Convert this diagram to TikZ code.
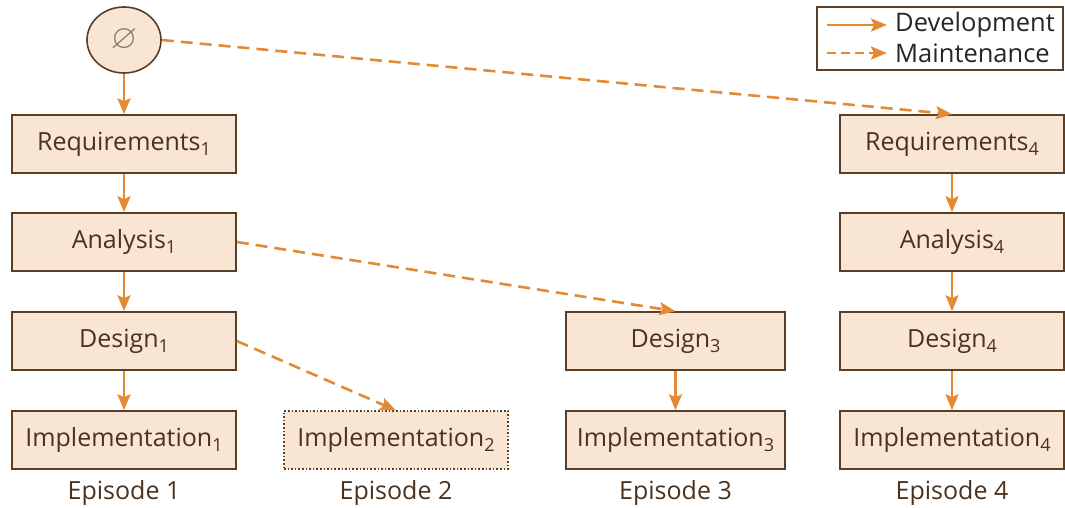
\documentclass[tikz,border=0pt]{standalone}
\usepackage{amssymb}
\usepackage{fontspec}
\setmainfont{Open Sans}
\usetikzlibrary{arrows.meta,shapes.geometric}
\definecolor{boxfill}{RGB}{249,229,212}
\definecolor{boxline}{RGB}{92,62,36}
\definecolor{flow}{RGB}{226,138,52}
\definecolor{ink}{RGB}{74,50,30}
\newcommand{\idx}[1]{\raisebox{-0.4ex}{\fontsize{18}{18}\selectfont #1}}
\tikzset{
  phase/.style={draw=boxline, line width=1.6pt, fill=boxfill,
    minimum width=224pt, minimum height=58pt, inner sep=0pt,
    font=\fontsize{25}{28}\selectfont, text=ink},
  devarrow/.style={draw=flow, line width=2.6pt,
    -{Stealth[length=16pt,width=13pt,inset=3pt]}},
  maintarrow/.style={devarrow, dash pattern=on 12pt off 7pt},
  episode/.style={font=\fontsize{25}{28}\selectfont, text=ink},
  legendtext/.style={anchor=west, inner sep=0pt, font=\fontsize{25.5}{28}\selectfont, text=black!85}
}
\begin{document}
\begin{tikzpicture}[x=1pt,y=-1pt]
\useasboundingbox (0,0) rectangle (1065,507);

% start node
\node[ellipse, draw=boxline, line width=1.6pt, fill=boxfill,
  minimum width=74pt, minimum height=66pt, inner sep=0pt,
  font=\fontsize{34}{34}\selectfont, text=ink!65] (empty) at (124,40) {$\varnothing$};

% episode 1
\node[phase] (req1) at (124,144) {Requirements\idx{1}};
\node[phase] (ana1) at (124,242) {Analysis\idx{1}};
\node[phase] (des1) at (124,341) {Design\idx{1}};
\node[phase] (imp1) at (124,440) {Implementation\idx{1}};

% episode 2
\node[phase, draw=boxline, dotted, line width=1.2pt] (imp2) at (396,440) {Implementation\idx{2}};

% episode 3
\node[phase, minimum width=219pt] (des3) at (675.5,341) {Design\idx{3}};
\node[phase, minimum width=219pt] (imp3) at (675.5,440) {Implementation\idx{3}};

% episode 4
\node[phase] (req4) at (952,144) {Requirements\idx{4}};
\node[phase] (ana4) at (952,242) {Analysis\idx{4}};
\node[phase] (des4) at (952,341) {Design\idx{4}};
\node[phase] (imp4) at (952,440) {Implementation\idx{4}};

% development flow
\draw[devarrow] (empty) -- (req1);
\draw[devarrow] (req1) -- (ana1);
\draw[devarrow] (ana1) -- (des1);
\draw[devarrow] (des1) -- (imp1);
\draw[devarrow] (des3) -- (imp3);
\draw[devarrow] (req4) -- (ana4);
\draw[devarrow] (ana4) -- (des4);
\draw[devarrow] (des4) -- (imp4);

% maintenance flow
\draw[maintarrow] (empty.east) -- (req4.north);
\draw[maintarrow] (ana1.east) -- (des3.north);
\draw[maintarrow] (des1.east) -- (imp2.north);

% episode labels
\node[episode] (ep1) at (124,493) {Episode 1};
\node[episode] (ep2) at (396,493) {Episode 2};
\node[episode] (ep3) at (675.5,493) {Episode 3};
\node[episode] (ep4) at (952,493) {Episode 4};

% legend
\node[draw=boxline, line width=1.2pt, fill=white, minimum width=246pt,
  minimum height=63pt, inner sep=0pt] (legend) at (940,38.5) {};
\coordinate (devstart) at (827,25);
\coordinate (mntstart) at (827,53);
\node[legendtext] (devlabel) at (895,25) {Development};
\node[legendtext] (mntlabel) at (895,53) {Maintenance};
\draw[devarrow] (devstart) -- ([xshift=-8pt]devlabel.west);
\draw[maintarrow, dash pattern=on 9pt off 5pt] (mntstart) -- ([xshift=-8pt]mntlabel.west);
\end{tikzpicture}
\end{document}
